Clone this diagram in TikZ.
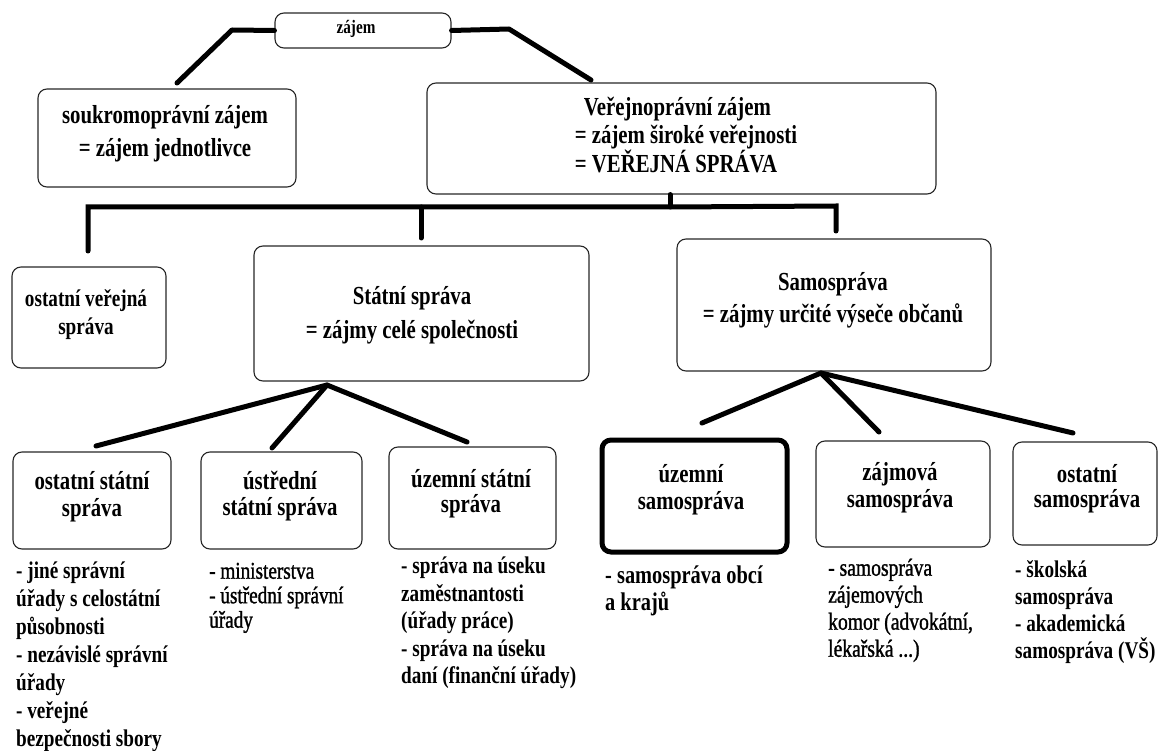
\documentclass[tikz,border=0pt]{standalone}
\usepackage{fontspec}
\newfontfamily\tnr{Liberation Serif}[FakeStretch=0.8]
\newfontfamily\tnrm{Liberation Serif}[FakeStretch=0.8,FakeBold=1.2]
\begin{document}
\begin{tikzpicture}[x=1pt,y=-1pt,
  box/.style={draw=black!85, line width=1.1pt, rounded corners=9pt, inner sep=0pt},
  thickbox/.style={draw=black, line width=5pt, rounded corners=9pt, inner sep=0pt},
  lbl/.style={align=center, inner sep=0pt},
  conn/.style={line width=5pt, line cap=round, line join=round},
  lst/.style={anchor=north west, align=left, inner sep=0pt},
]
\useasboundingbox (0,0) rectangle (1159,751);
\newcommand{\bt}[2]{\tnr\bfseries\fontsize{#1}{#2}\selectfont}
\newcommand{\rt}[2]{\tnrm\fontsize{#1}{#2}\selectfont}
\newcommand{\st}{\rule{0pt}{22pt}}

% boxes
\node[box, minimum width=176pt, minimum height=35pt] (zajem) at (363,30.5) {};
\node[box, minimum width=258pt, minimum height=98pt] (souk) at (167,138) {};
\node[box, minimum width=509pt, minimum height=111pt] (verej) at (681.5,138.5) {};
\node[box, minimum width=154pt, minimum height=101pt] (ostver) at (89,317.5) {};
\node[box, minimum width=335pt, minimum height=135pt] (statni) at (421.5,313.5) {};
\node[box, minimum width=314pt, minimum height=132pt] (samo) at (834,305) {};
\node[box, minimum width=158pt, minimum height=97pt] (ostst) at (92,500.5) {};
\node[box, minimum width=161pt, minimum height=97pt] (ustr) at (281.5,500.5) {};
\node[box, minimum width=167pt, minimum height=102pt] (uzst) at (472.5,498) {};
\node[thickbox, minimum width=185pt, minimum height=112pt] (uzsam) at (694.5,496) {};
\node[box, minimum width=174pt, minimum height=106pt] (zajm) at (903,494) {};
\node[box, minimum width=144pt, minimum height=103pt] (ostsam) at (1085,493.5) {};

% box texts
\node[lbl, font=\bt{19}{22}] (zajemt) at (356,29) {zájem};
\node[lbl, font=\bt{26}{33}] (soukt) at (165,133.5) {soukromoprávní zájem\\= zájem jednotlivce};
\node[lbl, align=left, font=\bt{26}{28}] (verejt) at (686,135) {\hspace*{9pt}Veřejnoprávní zájem\\= zájem široké veřejnosti\\= VEŘEJNÁ SPRÁVA};
\node[lbl, font=\bt{24}{28}] (ostvert) at (86,315) {ostatní veřejná\\správa};
\node[lbl, font=\bt{26}{34}] (statnit) at (412,315) {Státní správa\\= zájmy celé společnosti};
\node[lbl, font=\bt{26}{32}] (samot) at (833,300) {Samospráva\\= zájmy určité výseče občanů};
\node[lbl, font=\bt{26}{27}] (ostsTt) at (92,497) {ostatní státní\\správa};
\node[lbl, font=\bt{26}{26}] (ustrt) at (280,496) {ústřední\\státní správa};
\node[lbl, font=\bt{26}{25}] (uzstt) at (471,494) {územní státní\\správa};
\node[lbl, font=\bt{26}{27}] (uzsamt) at (691,490) {územní\\samospráva};
\node[lbl, font=\bt{26}{27}] (zajmt) at (900,488) {zájmová\\samospráva};
\node[lbl, font=\bt{26}{25}] (ostsamt) at (1087,489) {ostatní\\samospráva};

% lists
\node[lst, font=\bt{24}{28}] (l1) at (16,556.5) {\st- jiné správní\\úřady s celostátní\\působnosti\\- nezávislé správní\\úřady\\- veřejné\\bezpečnosti sbory};
\node[lst, font=\rt{24}{24.5}] (l2) at (209,556.5) {\st- ministerstva\\- ústřední správní\\úřady};
\node[lst, font=\bt{24}{27.5}] (l3) at (401,551.5) {\st- správa na úseku\\zaměstnantosti\\(úřady práce)\\- správa na úseku\\daní (finanční úřady)};
\node[lst, font=\bt{25.5}{27}] (l4) at (605,561) {\st- samospráva obcí\\a krajů};
\node[lst, font=\rt{24.5}{27}] (l5) at (828,553.5) {\st- samospráva\\zájemových\\komor (advokátní,\\lékařská ...)};
\node[lst, font=\bt{24}{27}] (l6) at (1015,555.5) {\st- školská\\samospráva\\- akademická\\samospráva (VŠ)};

% connector points
\coordinate (zl1) at (232,30);
\coordinate (zl2) at (177,83);
\coordinate (zr1) at (509,29);
\coordinate (zr2) at (591,80);
\coordinate (vb) at (670,207);
\coordinate (bl) at (88,207);
\coordinate (br) at (836,206);
\coordinate (blend) at (88,251);
\coordinate (bm) at (421,207);
\coordinate (bmend) at (421,238);
\coordinate (brend) at (836,231);
\coordinate (sa) at (327,385);
\coordinate (s1) at (96,446);
\coordinate (s2) at (272,448);
\coordinate (s3) at (467,442);
\coordinate (ma) at (821,373);
\coordinate (m1) at (702,423);
\coordinate (m2) at (879,432);
\coordinate (m3) at (1073,433);

% connectors
\draw[conn] (zajem.west) -- (zl1) -- (zl2);
\draw[conn] (zajem.east) -- (zr1) -- (zr2);
\draw[conn] (verej.south -| vb) -- (vb);
\draw[conn, line join=miter] (blend) -- (bl) -- (vb) -- (br) -- (brend);
\draw[conn] (bm) -- (bmend);
\draw[conn] (s1) -- (sa) -- (s3);
\draw[conn] (sa) -- (s2);
\draw[conn] (m1) -- (ma) -- (m3);
\draw[conn] (ma) -- (m2);
\end{tikzpicture}
\end{document}
